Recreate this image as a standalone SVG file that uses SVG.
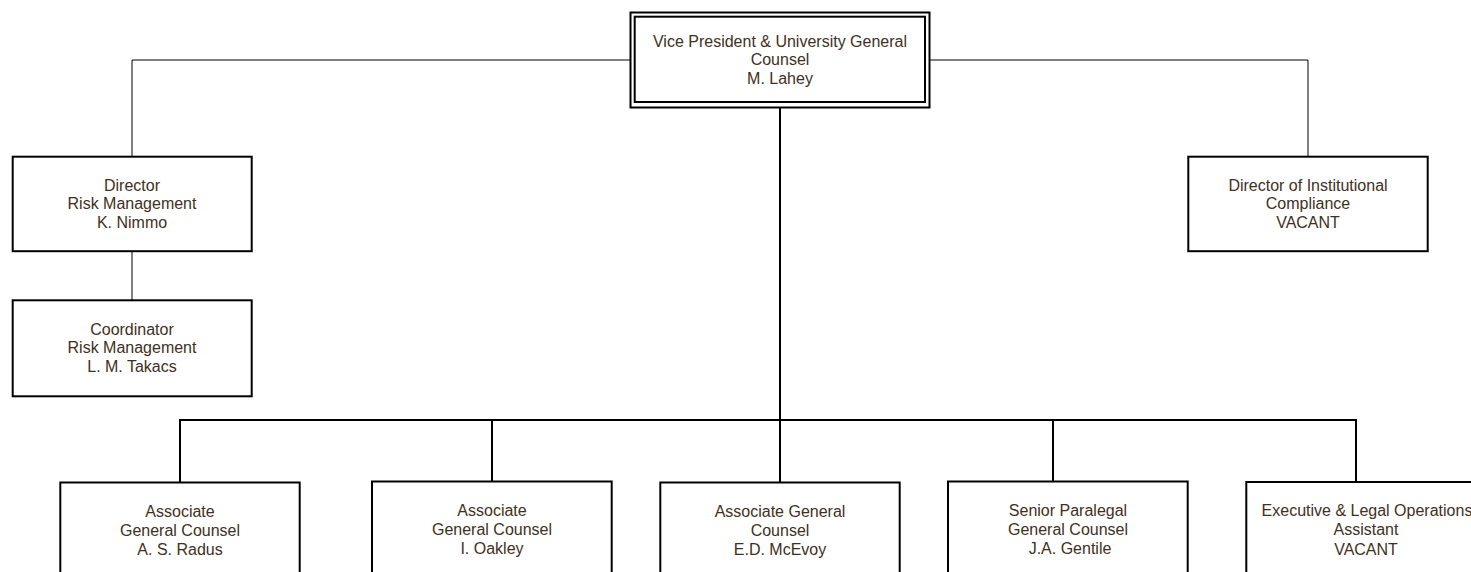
<svg xmlns="http://www.w3.org/2000/svg" width="1471" height="572" viewBox="0 0 1471 572">
<style>
.box{fill:#fff;stroke:#000;stroke-width:2}
.t{font-family:"Liberation Sans",Arial,sans-serif;font-size:16px;fill:#3f3022;text-anchor:middle}
.thin{stroke:#000;stroke-width:1;fill:none}
.thick{stroke:#000;stroke-width:2;fill:none}
</style>
<rect width="1471" height="572" fill="#fff"/>
<g id="connectors">
<path class="thin" d="M630 60H132V157"/>
<path class="thin" d="M930 60H1308V157"/>
<path class="thin" d="M132 251V301"/>
<path class="thick" d="M780 108V482"/>
<path class="thick" d="M180 482V420H1356V482"/>
<path class="thick" d="M492 420V482"/>
<path class="thick" d="M1053 420V482"/>
</g>
<g id="vp">
<rect class="box" x="630.5" y="12.5" width="299" height="95"/>
<rect class="box" x="634.7" y="16.7" width="290.3" height="85.3"/>
<text class="t" x="780" y="46.5">Vice President &amp; University General</text>
<text class="t" x="780" y="65.3">Counsel</text>
<text class="t" x="780" y="84.1">M. Lahey</text>
</g>
<g id="dir-risk">
<rect class="box" x="12.7" y="156.7" width="239" height="94.5"/>
<text class="t" x="132" y="190.5">Director</text>
<text class="t" x="132" y="209.3">Risk Management</text>
<text class="t" x="132" y="228.1">K. Nimmo</text>
</g>
<g id="coord-risk">
<rect class="box" x="12.7" y="300.3" width="239" height="96"/>
<text class="t" x="132" y="334.6">Coordinator</text>
<text class="t" x="132" y="353.4">Risk Management</text>
<text class="t" x="132" y="372.2">L. M. Takacs</text>
</g>
<g id="dir-compliance">
<rect class="box" x="1188.3" y="156.7" width="239.4" height="94.5"/>
<text class="t" x="1308" y="190.5">Director of Institutional</text>
<text class="t" x="1308" y="209.3">Compliance</text>
<text class="t" x="1308" y="228.1">VACANT</text>
</g>
<g id="agc-radus">
<rect class="box" x="60.3" y="482.5" width="239.4" height="96"/>
<text class="t" x="180" y="516.5">Associate</text>
<text class="t" x="180" y="535.8">General Counsel</text>
<text class="t" x="180" y="555">A. S. Radus</text>
</g>
<g id="agc-oakley">
<rect class="box" x="372" y="481.5" width="239.7" height="96"/>
<text class="t" x="492" y="515.5">Associate</text>
<text class="t" x="492" y="534.8">General Counsel</text>
<text class="t" x="492" y="554">I. Oakley</text>
</g>
<g id="agc-mcevoy">
<rect class="box" x="660.3" y="482.5" width="239.4" height="96"/>
<text class="t" x="780" y="516.5">Associate General</text>
<text class="t" x="780" y="535.8">Counsel</text>
<text class="t" x="780" y="555">E.D. McEvoy</text>
</g>
<g id="paralegal">
<rect class="box" x="948" y="481.5" width="239.7" height="96"/>
<text class="t" x="1068" y="515.5">Senior Paralegal</text>
<text class="t" x="1068" y="534.8">General Counsel</text>
<text class="t" x="1070" y="554">J.A. Gentile</text>
</g>
<g id="exec-assistant">
<rect class="box" x="1246.3" y="482" width="240" height="96"/>
<text class="t" x="1367" y="516">Executive &amp; Legal Operations</text>
<text class="t" x="1366" y="535.3">Assistant</text>
<text class="t" x="1366" y="554.5">VACANT</text>
</g>
</svg>
